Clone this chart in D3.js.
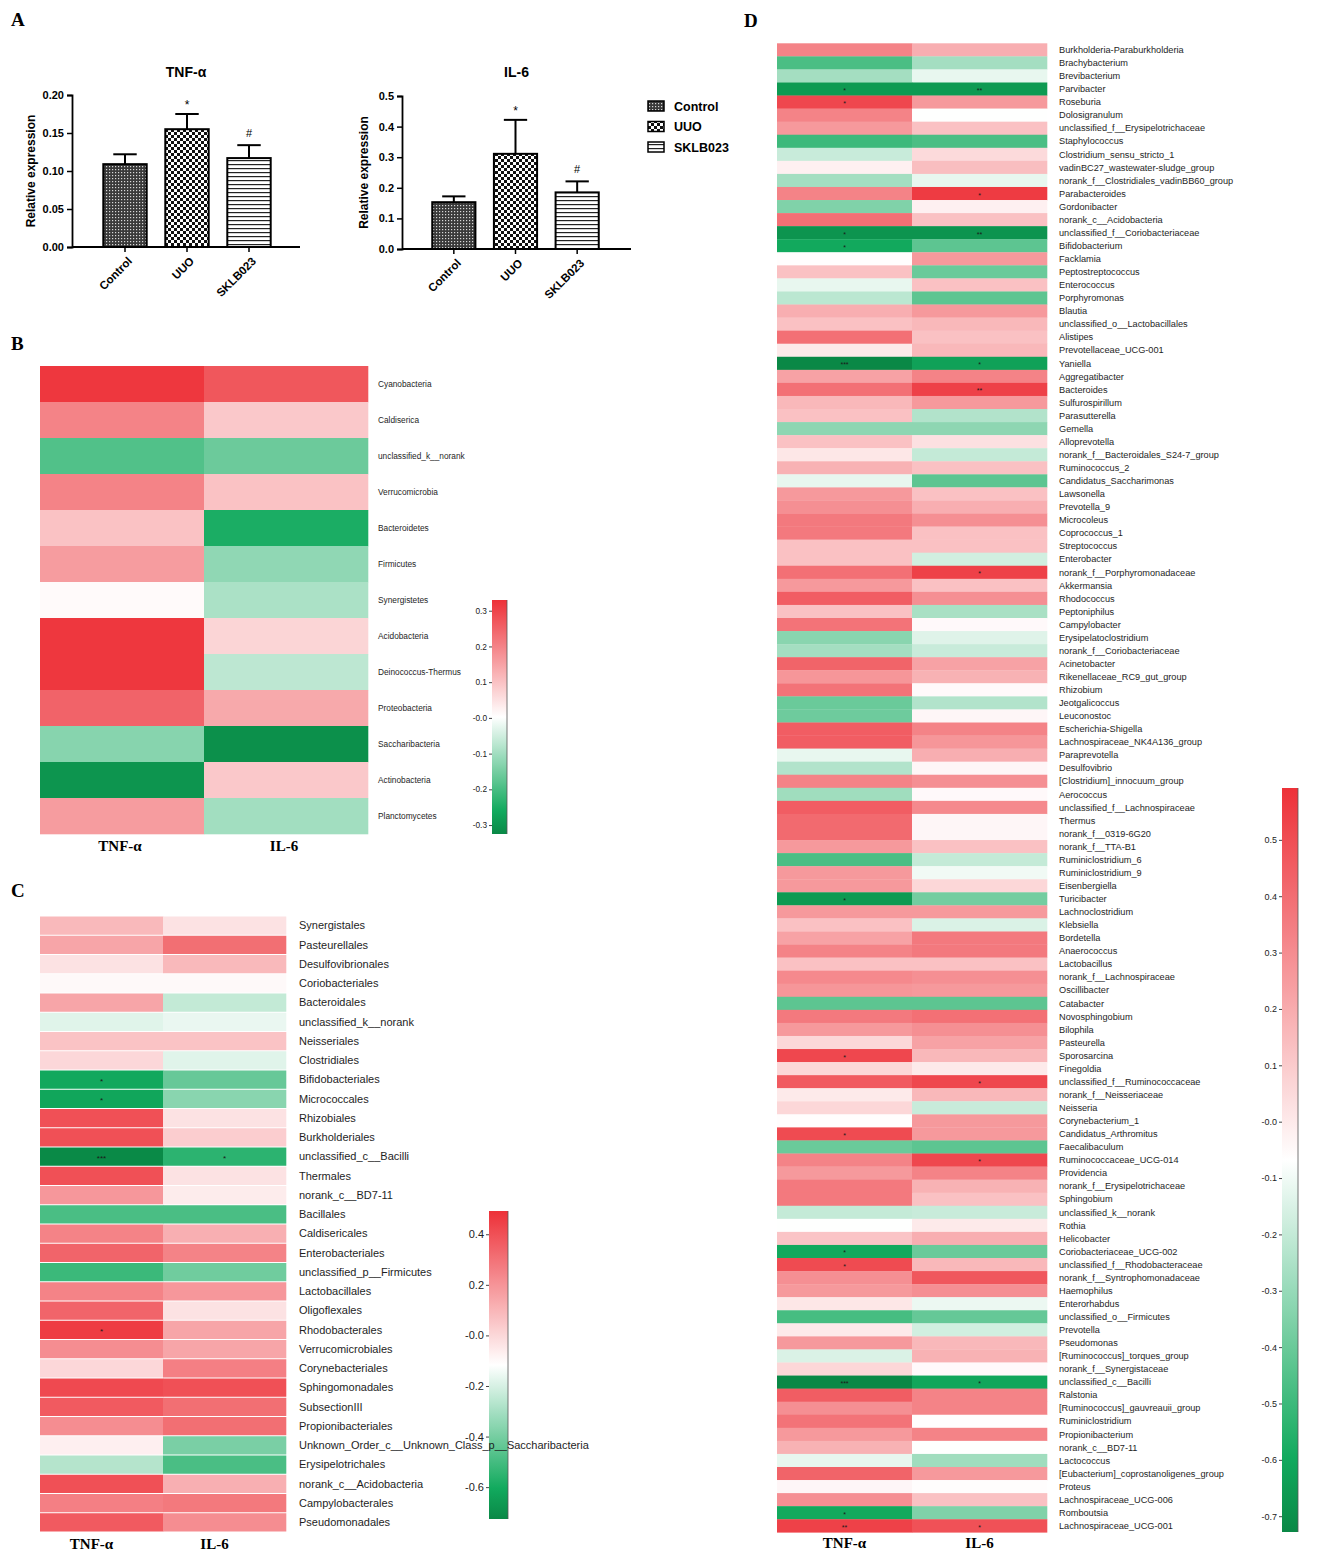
<!DOCTYPE html>
<html>
<head>
<meta charset="utf-8">
<script src="https://cdn.jsdelivr.net/npm/d3@7/dist/d3.min.js"></script>
<style>
  body { margin: 0; background: #fff; }
  svg { display: block; }
</style>
</head>
<body>
<svg id="fig" width="1336" height="1552"></svg>
<script>
// ---------- Panel A: qPCR relative expression ----------
const groups = ["Control", "UUO", "SKLB023"];
const tnfMean = [0.109, 0.155, 0.117];
const tnfErr = [0.013, 0.020, 0.017];
const tnfMarks = ["", "*", "#"];
const il6Mean = [0.153, 0.311, 0.185];
const il6Err = [0.019, 0.111, 0.036];
const il6Marks = ["", "*", "#"];
const tnfTicks = [0, 0.05, 0.10, 0.15, 0.20];
const il6Ticks = [0, 0.1, 0.2, 0.3, 0.4, 0.5];

// ---------- correlation heatmaps ----------
const markers = ["TNF-α", "IL-6"];

// B: phylum level
const phylumNames = ["Cyanobacteria", "Caldiserica", "unclassified_k__norank", "Verrucomicrobia",
  "Bacteroidetes", "Firmicutes", "Synergistetes", "Acidobacteria", "Deinococcus-Thermus",
  "Proteobacteria", "Saccharibacteria", "Actinobacteria", "Planctomycetes"];
const phylumTNF = [0.32, 0.20, -0.19, 0.20, 0.10, 0.16, 0.01, 0.32, 0.32, 0.25, -0.13, -0.30, 0.16];
const phylumIL6 = [0.27, 0.09, -0.16, 0.10, -0.25, -0.12, -0.09, 0.07, -0.07, 0.14, -0.31, 0.09, -0.10];
const phylumRange = [-0.325, 0.33];
const phylumTicks = [0.3, 0.2, 0.1, 0, -0.1, -0.2, -0.3];

// C: order level
const orderNames = ["Synergistales", "Pasteurellales", "Desulfovibrionales", "Coriobacteriales",
  "Bacteroidales", "unclassified_k__norank", "Neisseriales", "Clostridiales", "Bifidobacteriales",
  "Micrococcales", "Rhizobiales", "Burkholderiales", "unclassified_c__Bacilli", "Thermales",
  "norank_c__BD7-11", "Bacillales", "Caldisericales", "Enterobacteriales", "unclassified_p__Firmicutes",
  "Lactobacillales", "Oligoflexales", "Rhodobacterales", "Verrucomicrobiales", "Corynebacteriales",
  "Sphingomonadales", "SubsectionIII", "Propionibacteriales",
  "Unknown_Order_c__Unknown_Class_p__Saccharibacteria", "Erysipelotrichales", "norank_c__Acidobacteria",
  "Campylobacterales", "Pseudomonadales"];
const orderTNF = [0.09, 0.15, -0.03, -0.10, 0.15, -0.18, 0.06, 0.00, -0.61, -0.62, 0.40, 0.40, -0.72,
  0.40, 0.19, -0.49, 0.25, 0.34, -0.52, 0.25, 0.34, 0.46, 0.22, 0.00, 0.42, 0.37, 0.22, -0.07, -0.27,
  0.40, 0.26, 0.37];
const orderIL6 = [-0.03, 0.31, 0.09, -0.10, -0.24, -0.16, 0.06, -0.18, -0.43, -0.36, -0.03, 0.03, -0.55,
  -0.03, -0.06, -0.49, 0.12, 0.25, -0.41, 0.19, -0.03, 0.15, 0.15, 0.26, 0.40, 0.31, 0.31, -0.39, -0.49,
  0.12, 0.28, 0.22];
const orderStars = [["Bifidobacteriales", "*", ""], ["Micrococcales", "*", ""],
  ["unclassified_c__Bacilli", "***", "*"], ["Rhodobacterales", "*", ""]];
const orderRange = [-0.726, 0.492];
const orderTicks = [0.4, 0.2, 0, -0.2, -0.4, -0.6];

// D: genus level
const genusNames = ["Burkholderia-Paraburkholderia", "Brachybacterium", "Brevibacterium", "Parvibacter",
  "Roseburia", "Dolosigranulum", "unclassified_f__Erysipelotrichaceae", "Staphylococcus",
  "Clostridium_sensu_stricto_1", "vadinBC27_wastewater-sludge_group", "norank_f__Clostridiales_vadinBB60_group",
  "Parabacteroides", "Gordonibacter", "norank_c__Acidobacteria", "unclassified_f__Coriobacteriaceae",
  "Bifidobacterium", "Facklamia", "Peptostreptococcus", "Enterococcus", "Porphyromonas", "Blautia",
  "unclassified_o__Lactobacillales", "Alistipes", "Prevotellaceae_UCG-001", "Yaniella", "Aggregatibacter",
  "Bacteroides", "Sulfurospirillum", "Parasutterella", "Gemella", "Alloprevotella",
  "norank_f__Bacteroidales_S24-7_group", "Ruminococcus_2", "Candidatus_Saccharimonas", "Lawsonella",
  "Prevotella_9", "Microcoleus", "Coprococcus_1", "Streptococcus", "Enterobacter",
  "norank_f__Porphyromonadaceae", "Akkermansia", "Rhodococcus", "Peptoniphilus", "Campylobacter",
  "Erysipelatoclostridium", "norank_f__Coriobacteriaceae", "Acinetobacter", "Rikenellaceae_RC9_gut_group",
  "Rhizobium", "Jeotgalicoccus", "Leuconostoc", "Escherichia-Shigella", "Lachnospiraceae_NK4A136_group",
  "Paraprevotella", "Desulfovibrio", "[Clostridium]_innocuum_group", "Aerococcus",
  "unclassified_f__Lachnospiraceae", "Thermus", "norank_f__0319-6G20", "norank_f__TTA-B1",
  "Ruminiclostridium_6", "Ruminiclostridium_9", "Eisenbergiella", "Turicibacter", "Lachnoclostridium",
  "Klebsiella", "Bordetella", "Anaerococcus", "Lactobacillus", "norank_f__Lachnospiraceae", "Oscillibacter",
  "Catabacter", "Novosphingobium", "Bilophila", "Pasteurella", "Sporosarcina", "Finegoldia",
  "unclassified_f__Ruminococcaceae", "norank_f__Neisseriaceae", "Neisseria", "Corynebacterium_1",
  "Candidatus_Arthromitus", "Faecalibaculum", "Ruminococcaceae_UCG-014", "Providencia",
  "norank_f__Erysipelotrichaceae", "Sphingobium", "unclassified_k__norank", "Rothia", "Helicobacter",
  "Coriobacteriaceae_UCG-002", "unclassified_f__Rhodobacteraceae", "norank_f__Syntrophomonadaceae",
  "Haemophilus", "Enterorhabdus", "unclassified_o__Firmicutes", "Prevotella", "Pseudomonas",
  "[Ruminococcus]_torques_group", "norank_f__Synergistaceae", "unclassified_c__Bacilli", "Ralstonia",
  "[Ruminococcus]_gauvreauii_group", "Ruminiclostridium", "Propionibacterium", "norank_c__BD7-11",
  "Lactococcus", "[Eubacterium]_coprostanoligenes_group", "Proteus", "Lachnospiraceae_UCG-006",
  "Romboutsia", "Lachnospiraceae_UCG-001"];
const genusTNF = [0.33, -0.47, -0.27, -0.66, 0.52, 0.33, 0.26, -0.50, -0.19, -0.02,
  -0.27, 0.33, -0.35, 0.39, -0.68, -0.60, -0.06, 0.13, -0.12, -0.22,
  0.19, 0.13, 0.39, 0.00, -0.73, 0.23, 0.39, 0.16, 0.13, -0.32,
  0.13, 0.01, 0.18, -0.12, 0.26, 0.29, 0.36, 0.36, 0.13, 0.13,
  0.39, 0.26, 0.45, 0.13, 0.38, -0.33, -0.27, 0.43, 0.27, 0.38,
  -0.40, -0.39, 0.45, 0.45, -0.12, -0.24, 0.33, -0.28, 0.45, 0.41,
  0.41, 0.26, -0.47, 0.26, 0.26, -0.66, 0.26, 0.13, 0.23, 0.33,
  0.13, 0.31, 0.27, -0.43, 0.36, 0.26, 0.06, 0.52, 0.06, 0.46,
  0.00, 0.06, -0.06, 0.51, -0.40, 0.33, 0.26, 0.36, 0.36, -0.20,
  -0.07, 0.12, -0.60, 0.51, 0.29, 0.26, 0.01, -0.48, 0.00, 0.26,
  -0.15, 0.06, -0.73, 0.45, 0.29, 0.38, 0.26, 0.18, -0.12, 0.43,
  -0.04, 0.29, -0.60, 0.54];
const genusIL6 = [0.19, -0.27, -0.12, -0.66, 0.26, -0.07, 0.13, -0.47, 0.05, 0.14,
  -0.12, 0.56, -0.02, 0.13, -0.68, -0.43, 0.26, -0.40, 0.13, -0.43,
  0.26, 0.16, 0.13, 0.16, -0.63, 0.33, 0.54, 0.26, -0.24, -0.32,
  0.03, -0.20, 0.13, -0.43, 0.13, 0.19, 0.29, 0.13, 0.13, -0.17,
  0.54, 0.13, 0.29, -0.26, -0.05, -0.14, -0.19, 0.23, 0.18, -0.05,
  -0.24, -0.04, 0.33, 0.27, 0.19, -0.04, 0.29, -0.05, 0.31, -0.04,
  -0.04, 0.13, -0.20, -0.10, 0.06, -0.38, 0.26, -0.15, 0.36, 0.36,
  0.13, 0.29, 0.26, -0.43, 0.39, 0.29, 0.23, 0.16, 0.00, 0.52,
  0.16, -0.19, 0.26, 0.26, -0.43, 0.52, 0.33, 0.18, 0.13, -0.19,
  0.00, 0.19, -0.40, 0.16, 0.47, 0.29, -0.11, -0.41, -0.17, 0.16,
  0.18, -0.05, -0.61, 0.33, 0.33, -0.06, 0.33, -0.07, -0.28, 0.26,
  -0.06, 0.13, -0.35, 0.49];
const genusStars = [["Parvibacter", "*", "**"], ["Roseburia", "*", ""], ["Parabacteroides", "", "*"],
  ["unclassified_f__Coriobacteriaceae", "*", "**"], ["Bifidobacterium", "*", ""], ["Yaniella", "***", "*"],
  ["Bacteroides", "", "**"], ["norank_f__Porphyromonadaceae", "", "*"], ["Turicibacter", "*", ""],
  ["Sporosarcina", "*", ""], ["unclassified_f__Ruminococcaceae", "", "*"], ["Candidatus_Arthromitus", "*", ""],
  ["Ruminococcaceae_UCG-014", "", "*"], ["Coriobacteriaceae_UCG-002", "*", ""],
  ["unclassified_f__Rhodobacteraceae", "*", ""], ["unclassified_c__Bacilli", "***", "*"],
  ["Romboutsia", "*", ""], ["Lachnospiraceae_UCG-001", "**", "*"]];
const genusRange = [-0.728, 0.592];
const genusTicks = [0.5, 0.4, 0.3, 0.2, 0.1, 0, -0.1, -0.2, -0.3, -0.4, -0.5, -0.6, -0.7];

// ---------- drawing ----------
const SANS = "'Liberation Sans', Arial, sans-serif";
const SERIF = "'Liberation Serif', 'Times New Roman', serif";
const svg = d3.select("#fig");
const defs = svg.append("defs");

// bar fill patterns: fine dots, checkerboard, horizontal stripes
const pDots = defs.append("pattern").attr("id", "fill-Control").attr("patternUnits", "userSpaceOnUse")
  .attr("width", 3).attr("height", 3);
pDots.append("rect").attr("width", 3).attr("height", 3).attr("fill", "#3a3a3a");
pDots.append("rect").attr("x", 1).attr("y", 1).attr("width", 1.2).attr("height", 1.2).attr("fill", "#d8d8d8");

const pChk = defs.append("pattern").attr("id", "fill-UUO").attr("patternUnits", "userSpaceOnUse")
  .attr("width", 6).attr("height", 6);
pChk.append("rect").attr("width", 6).attr("height", 6).attr("fill", "#fff");
pChk.append("rect").attr("width", 3).attr("height", 3).attr("fill", "#111");
pChk.append("rect").attr("x", 3).attr("y", 3).attr("width", 3).attr("height", 3).attr("fill", "#111");

const pStr = defs.append("pattern").attr("id", "fill-SKLB023").attr("patternUnits", "userSpaceOnUse")
  .attr("width", 6).attr("height", 4);
pStr.append("rect").attr("width", 6).attr("height", 4).attr("fill", "#fff");
pStr.append("rect").attr("y", 0).attr("width", 6).attr("height", 1.2).attr("fill", "#222");

function panelLetter(t, x, y) {
  svg.append("text").attr("x", x).attr("y", y).text(t)
    .attr("font-family", SERIF).attr("font-weight", "bold").attr("font-size", 19);
}

function barChart(o) {
  const g = svg.append("g");
  const y = d3.scaleLinear().domain([0, o.yMax]).range([o.yBot, o.yTop]);
  const x = d3.scaleBand().domain(groups).range(o.band).paddingInner(0.3).paddingOuter(0.15);

  // y axis
  const ya = g.append("g").attr("transform", `translate(${o.axisX0},0)`)
    .call(d3.axisLeft(y).tickValues(o.ticks).tickFormat(d3.format(o.fmt)).tickSize(5).tickPadding(3));
  ya.select(".domain").attr("stroke-width", 1.8);
  ya.selectAll(".tick line").attr("stroke-width", 1.5);
  ya.selectAll("text").attr("font-family", SANS).attr("font-weight", "bold").attr("font-size", 11);

  // x axis: baseline across the full plot width, ticks under each bar
  g.append("line").attr("x1", o.axisX0).attr("x2", o.axisX1).attr("y1", o.yBot).attr("y2", o.yBot)
    .attr("stroke", "#000").attr("stroke-width", 1.8);
  const xa = g.append("g").attr("transform", `translate(0,${o.yBot})`)
    .call(d3.axisBottom(x).tickSize(5));
  xa.select(".domain").remove();
  xa.selectAll(".tick line").attr("stroke-width", 1.5);
  xa.selectAll("text")
    .attr("x", null).attr("y", null).attr("dy", "0.35em")
    .attr("transform", "translate(5,12) rotate(-45)")
    .attr("text-anchor", "end")
    .attr("font-family", SANS).attr("font-weight", "bold").attr("font-size", 11.5);

  // bars
  g.selectAll("rect.bar").data(groups).join("rect").attr("class", "bar")
    .attr("x", d => x(d)).attr("width", x.bandwidth())
    .attr("y", (d, i) => y(o.means[i])).attr("height", (d, i) => o.yBot - y(o.means[i]))
    .attr("fill", d => `url(#fill-${d})`).attr("stroke", "#000").attr("stroke-width", 2);

  // upper error bars
  const cap = x.bandwidth() * 0.27;
  groups.forEach((d, i) => {
    const cx = x(d) + x.bandwidth() / 2, top = y(o.means[i] + o.errs[i]);
    g.append("line").attr("x1", cx).attr("x2", cx).attr("y1", y(o.means[i])).attr("y2", top)
      .attr("stroke", "#000").attr("stroke-width", 2);
    g.append("line").attr("x1", cx - cap).attr("x2", cx + cap).attr("y1", top).attr("y2", top)
      .attr("stroke", "#000").attr("stroke-width", 2);
    if (o.marks[i]) {
      g.append("text").attr("x", cx).attr("y", top - (o.marks[i] === "*" ? 5 : 8)).text(o.marks[i])
        .attr("text-anchor", "middle").attr("font-family", SANS).attr("font-size", o.marks[i] === "*" ? 12 : 11);
    }
  });

  g.append("text").attr("x", (o.axisX0 + o.axisX1) / 2).attr("y", 77).text(o.title)
    .attr("text-anchor", "middle").attr("font-family", SANS).attr("font-weight", "bold").attr("font-size", 14);
  g.append("text").attr("transform", `translate(${o.ylabelX},${(o.yTop + o.yBot) / 2}) rotate(-90)`)
    .text("Relative expression").attr("text-anchor", "middle")
    .attr("font-family", SANS).attr("font-weight", "bold").attr("font-size", 12);
}

panelLetter("A", 11, 26);
barChart({ title: "TNF-α", means: tnfMean, errs: tnfErr, marks: tnfMarks, yMax: 0.20, ticks: tnfTicks,
  fmt: ".2f", axisX0: 72, axisX1: 300, yTop: 95, yBot: 247, band: [94, 280], ylabelX: 35 });
barChart({ title: "IL-6", means: il6Mean, errs: il6Err, marks: il6Marks, yMax: 0.5, ticks: il6Ticks,
  fmt: ".1f", axisX0: 402, axisX1: 631, yTop: 96, yBot: 249, band: [423, 608], ylabelX: 368 });

// legend
const lg = svg.append("g");
groups.forEach((d, i) => {
  const yy = 101 + i * 20.5;
  lg.append("rect").attr("x", 648).attr("y", yy).attr("width", 16).attr("height", 10)
    .attr("fill", `url(#fill-${d})`).attr("stroke", "#000").attr("stroke-width", 1.5);
  lg.append("text").attr("x", 674).attr("y", yy + 5).attr("dy", "0.36em").text(d)
    .attr("font-family", SANS).attr("font-weight", "bold").attr("font-size", 12.5);
});

function colorScale(range) {
  const [lo, hi] = range, span = hi - lo;
  return d3.scaleLinear()
    .domain([lo, lo + 0.1 * span, lo + 0.5 * span, hi])
    .range(["#0a8846", "#12aa5e", "#ffffff", "#ed3138"])
    .interpolate(d3.interpolateRgb).clamp(true);
}

const tickText = d => (d <= 0 ? "-" : "") + Math.abs(d).toFixed(1);
let gradId = 0;

function heatmap(o) {
  const color = colorScale(o.range);
  const g = svg.append("g");
  const y = d3.scaleBand().domain(o.names).range([o.y0, o.y1]);
  const x = d3.scaleBand().domain(markers).range([o.x0, o.x1]);
  const cells = o.names.flatMap((n, i) => [
    { n, m: markers[0], v: o.tnf[i] }, { n, m: markers[1], v: o.il6[i] }]);

  g.selectAll("rect.cell").data(cells).join("rect").attr("class", "cell")
    .attr("x", d => x(d.m)).attr("width", x.bandwidth() + 0.3)
    .attr("y", d => y(d.n) + o.gap / 2).attr("height", y.bandwidth() - o.gap + (o.gap ? 0 : 0.3))
    .attr("fill", d => color(d.v));

  // significance marks
  (o.stars || []).forEach(([n, s1, s2]) => {
    [s1, s2].forEach((s, k) => {
      if (!s) return;
      g.append("text").attr("x", x(markers[k]) + x.bandwidth() / 2).attr("y", y(n) + y.bandwidth() / 2 + o.starDy)
        .text(s).attr("text-anchor", "middle").attr("font-family", SANS)
        .attr("font-size", o.starSize).attr("fill", "#1a1a1a");
    });
  });

  // colour bar
  const cb = o.bar;
  const cy = d3.scaleLinear().domain(o.range).range([cb.y1, cb.y0]);
  const id = "grad" + (gradId++);
  const grad = defs.append("linearGradient").attr("id", id)
    .attr("x1", 0).attr("y1", 1).attr("x2", 0).attr("y2", 0);
  d3.range(0, 1.0001, 0.02).forEach(t => {
    grad.append("stop").attr("offset", t)
      .attr("stop-color", color(o.range[0] + t * (o.range[1] - o.range[0])));
  });
  g.append("rect").attr("x", cb.x0).attr("y", cb.y0).attr("width", cb.x1 - cb.x0).attr("height", cb.y1 - cb.y0)
    .attr("fill", `url(#${id})`);
  g.append("line").attr("x1", cb.x1).attr("x2", cb.x1).attr("y1", cb.y0).attr("y2", cb.y1)
    .attr("stroke", "#555").attr("stroke-width", 0.8);
  const ax = g.append("g").attr("transform", `translate(${cb.x0},0)`)
    .call(d3.axisLeft(cy).tickValues(o.ticks).tickFormat(tickText).tickSize(3).tickPadding(2));
  ax.select(".domain").remove();
  ax.selectAll(".tick line").attr("stroke", "#444");
  ax.selectAll("text").attr("font-family", SANS).attr("font-size", o.tickSize).attr("fill", "#222");

  // row labels
  g.selectAll("text.row").data(o.names).join("text").attr("class", "row")
    .attr("x", o.labelX).attr("y", d => y(d) + y.bandwidth() / 2).attr("dy", "0.35em").text(d => d)
    .attr("font-family", SANS).attr("font-size", o.labelSize).attr("fill", "#1e1e1e");

  // column labels
  g.selectAll("text.col").data(markers).join("text").attr("class", "col")
    .attr("x", d => x(d) + x.bandwidth() / 2 + o.colDx).attr("y", o.colY).text(d => d)
    .attr("text-anchor", "middle").attr("font-family", SERIF).attr("font-weight", "bold").attr("font-size", 15);
}

panelLetter("B", 11, 350);
heatmap({ names: phylumNames, tnf: phylumTNF, il6: phylumIL6, range: phylumRange, ticks: phylumTicks,
  x0: 40, x1: 368, y0: 366, y1: 834, gap: 0, labelX: 378, labelSize: 8.3, tickSize: 8.3,
  bar: { x0: 492, x1: 507, y0: 600, y1: 834 }, colY: 851, colDx: -2, starSize: 8, starDy: 4 });

panelLetter("C", 11, 897);
heatmap({ names: orderNames, tnf: orderTNF, il6: orderIL6, stars: orderStars, range: orderRange,
  ticks: orderTicks, x0: 40, x1: 286, y0: 916, y1: 1532, gap: 1, labelX: 299, labelSize: 11, tickSize: 11,
  bar: { x0: 489, x1: 508, y0: 1211, y1: 1519 }, colY: 1549, colDx: -10, starSize: 8, starDy: 4.5 });

panelLetter("D", 744, 27);
heatmap({ names: genusNames, tnf: genusTNF, il6: genusIL6, stars: genusStars, range: genusRange,
  ticks: genusTicks, x0: 777, x1: 1047, y0: 43.3, y1: 1532.3, gap: 0, labelX: 1059, labelSize: 9.2,
  tickSize: 9, bar: { x0: 1282, x1: 1298, y0: 788, y1: 1532 }, colY: 1548, colDx: 0, starSize: 7, starDy: 4 });
</script>
</body>
</html>
